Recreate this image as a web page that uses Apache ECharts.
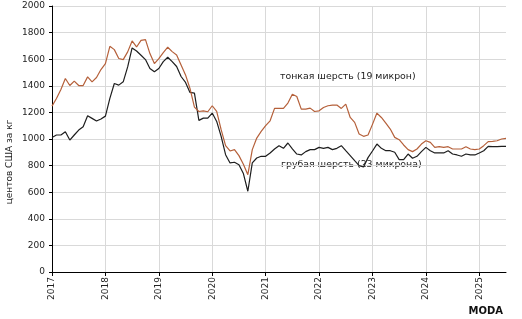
<!DOCTYPE html>
<html>
<head>
    <meta charset="utf-8">
    <title>Цены на шерсть</title>
    <script src="https://cdn.jsdelivr.net/npm/echarts@6/dist/echarts.min.js"></script>
    <style>
        html, body { margin: 0; padding: 0; background: #fff; }
        #chart1 { width: 522px; height: 319px; }
    </style>
</head>
<body>
<div id="chart1"></div>
<script type="text/javascript">
    // помесячно, январь 2017 - июль 2025
    var startYear = 2017;
    var years = ['2017', '2018', '2019', '2020', '2021', '2022', '2023', '2024', '2025'];

    // тонкая шерсть (19 микрон), центов США за кг
    var fine19 = [
        1247, 1305, 1372, 1455, 1402, 1435, 1402, 1402, 1467, 1430, 1462, 1522,
        1567, 1697, 1672, 1605, 1597, 1655, 1737, 1692, 1742, 1747, 1642, 1567,
        1605, 1650, 1690, 1657, 1632, 1557, 1482, 1380, 1240, 1207, 1212, 1205,
        1250, 1207, 1070, 950, 910, 920, 875, 810, 732, 920, 1007, 1057,
        1100, 1137, 1230, 1230, 1230, 1270, 1337, 1320, 1225, 1225, 1232, 1207,
        1212, 1237, 1250, 1255, 1255, 1230, 1262, 1162, 1125, 1037, 1020, 1030,
        1110, 1195, 1162, 1120, 1075, 1012, 995, 955, 920, 905, 925, 962,
        987, 975, 937, 942, 937, 942, 925, 925, 925, 942, 925, 920,
        925, 950, 980, 982, 987, 1000, 1005
    ];

    // грубая шерсть (23 микрона)
    var coarse23 = [
        1012, 1030, 1030, 1055, 992, 1030, 1067, 1092, 1175, 1155, 1135, 1150,
        1172, 1305, 1417, 1405, 1430, 1542, 1685, 1662, 1630, 1597, 1530, 1505,
        1530, 1582, 1615, 1582, 1545, 1470, 1425, 1350, 1345, 1140, 1157, 1157,
        1195, 1132, 1020, 882, 820, 825, 807, 740, 607, 820, 857, 870,
        870, 895, 925, 950, 930, 970, 925, 887, 880, 905, 920, 920,
        937, 930, 937, 920, 930, 950, 912, 875, 837, 800, 790, 860,
        910, 962, 930, 912, 912, 900, 845, 845, 887, 855, 870, 905,
        937, 912, 895, 895, 895, 912, 887, 880, 870, 887, 880, 880,
        895, 912, 945, 942, 942, 945, 945
    ];

    var months = [];
    for (var i = 0; i < fine19.length; i++) {
        var y = startYear + Math.floor(i / 12);
        var m = i % 12 + 1;
        months.push(y + '-' + (m < 10 ? '0' + m : m));
    }

    function yearStart(index) { return index % 12 === 0; }

    var font = 'DejaVu Sans, Verdana, sans-serif';

    var chart = echarts.init(document.getElementById('chart1'), null, { renderer: 'canvas' });
    chart.setOption({
        animation: false,
        backgroundColor: '#fff',
        textStyle: { fontFamily: font },
        grid: { left: 52, right: 16, top: 6, bottom: 47, containLabel: false },
        xAxis: {
            type: 'category',
            data: months,
            boundaryGap: false,
            axisLine: { lineStyle: { color: '#000', width: 1 } },
            axisTick: { show: true, interval: yearStart, length: 4, lineStyle: { color: '#000' } },
            splitLine: { show: true, interval: yearStart, lineStyle: { color: '#d9d9d9', width: 1 } },
            axisLabel: {
                interval: yearStart,
                rotate: 90,
                margin: 5,
                color: '#222',
                fontSize: 9,
                fontFamily: font,
                formatter: function (v) { return years[parseInt(v.slice(0, 4), 10) - startYear]; }
            }
        },
        yAxis: {
            type: 'value',
            min: 0,
            max: 2000,
            interval: 200,
            axisLine: { show: true, lineStyle: { color: '#000', width: 1 } },
            axisTick: { show: true, length: 3, lineStyle: { color: '#000' } },
            splitLine: { lineStyle: { color: '#d9d9d9', width: 1 } },
            axisLabel: {
                color: '#222', fontSize: 9, margin: 7, fontFamily: font,
                formatter: function (v) { return String(v); }
            }
        },
        series: [
            {
                name: 'грубая шерсть (23 микрона)',
                type: 'line',
                data: coarse23,
                showSymbol: false,
                lineStyle: { color: '#1e1e1e', width: 1.2 },
                itemStyle: { color: '#1e1e1e' }
            },
            {
                name: 'тонкая шерсть (19 микрон)',
                type: 'line',
                data: fine19,
                showSymbol: false,
                lineStyle: { color: '#b5603a', width: 1.2 },
                itemStyle: { color: '#b5603a' }
            }
        ],
        graphic: [
            {
                type: 'text', x: 10, y: 162, rotation: Math.PI / 2,
                style: { text: 'центов США за кг', fill: '#222', font: '9px ' + font, align: 'center', verticalAlign: 'middle' }
            },
            {
                type: 'text', x: 280, y: 77,
                style: { text: 'тонкая шерсть (19 микрон)', fill: '#222', font: '9.4px ' + font, align: 'left', verticalAlign: 'middle' }
            },
            {
                type: 'text', x: 281, y: 165,
                style: { text: 'грубая шерсть (23 микрона)', fill: '#222', font: '9.4px ' + font, align: 'left', verticalAlign: 'middle' }
            },
            {
                type: 'text', x: 503, y: 311,
                style: { text: 'MODA', fill: '#111', font: 'bold 10px ' + font, align: 'right', verticalAlign: 'middle' }
            }
        ]
    });
</script>
</body>
</html>
